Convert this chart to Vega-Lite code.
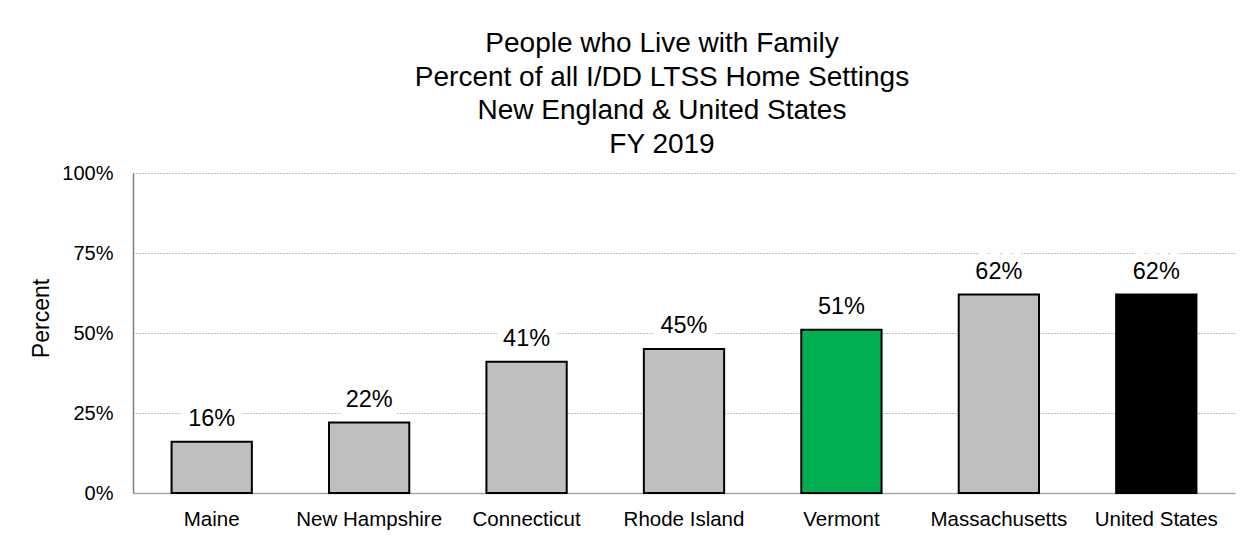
{
  "$schema": "https://vega.github.io/schema/vega-lite/v6.json",
  "width": 1102,
  "height": 320,
  "autosize": {"type": "none"},
  "padding": {"left": 133, "top": 173, "right": 25, "bottom": 57},
  "background": "white",
  "config": {
    "view": {"stroke": null},
    "font": "Liberation Sans"
  },
  "title": {
    "text": ["People who Live with Family", "Percent of all I/DD LTSS Home Settings", "New England & United States", "FY 2019"],
    "fontSize": 28,
    "lineHeight": 33.6,
    "font": "Liberation Sans",
    "fontWeight": "normal",
    "color": "black",
    "anchor": "middle",
    "dx": -22
  },
  "data": {
    "values": [
      {"state": "Maine", "value": 0.16},
      {"state": "New Hampshire", "value": 0.22},
      {"state": "Connecticut", "value": 0.41},
      {"state": "Rhode Island", "value": 0.45},
      {"state": "Vermont", "value": 0.51},
      {"state": "Massachusetts", "value": 0.62},
      {"state": "United States", "value": 0.62}
    ]
  },
  "encoding": {
    "x": {
      "field": "state",
      "type": "nominal",
      "sort": null,
      "scale": {"paddingInner": 0.49, "paddingOuter": 0.245},
      "axis": {
        "title": null,
        "labelAngle": 0,
        "labelFontSize": 20.5,
        "labelColor": "black",
        "labelPadding": 16,
        "ticks": false,
        "domainColor": "#A6A6A6",
        "domainWidth": 1.5
      }
    },
    "y": {
      "field": "value",
      "type": "quantitative",
      "scale": {"domain": [0, 1]},
      "axis": {
        "title": "Percent",
        "titleFontSize": 23,
        "titleFontWeight": "normal",
        "titleColor": "black",
        "titlePadding": 8,
        "titleY": 145,
        "values": [0, 0.25, 0.5, 0.75, 1],
        "format": ".0%",
        "labelFontSize": 20,
        "labelColor": "black",
        "labelPadding": 20,
        "ticks": false,
        "domainColor": "#7F7F7F",
        "domainWidth": 1.5,
        "grid": true,
        "gridColor": "#7F7F7F",
        "gridDash": [1, 2],
        "gridWidth": 1,
        "gridOpacity": {"condition": {"test": "datum.value === 0", "value": 0}, "value": 1}
      }
    }
  },
  "layer": [
    {
      "mark": {"type": "bar", "stroke": "black", "strokeWidth": 2},
      "encoding": {
        "color": {
          "field": "state",
          "type": "nominal",
          "scale": {
            "domain": ["Maine", "New Hampshire", "Connecticut", "Rhode Island", "Vermont", "Massachusetts", "United States"],
            "range": ["#BFBFBF", "#BFBFBF", "#BFBFBF", "#BFBFBF", "#00B050", "#BFBFBF", "#000000"]
          },
          "legend": null
        }
      }
    },
    {
      "mark": {"type": "text", "fontSize": 23.5, "baseline": "alphabetic", "dy": -16, "fill": "white", "stroke": "white", "strokeWidth": 18, "strokeJoin": "round"},
      "encoding": {"text": {"field": "value", "type": "quantitative", "format": ".0%"}}
    },
    {
      "mark": {"type": "text", "fontSize": 23.5, "baseline": "alphabetic", "dy": -16, "fill": "black"},
      "encoding": {"text": {"field": "value", "type": "quantitative", "format": ".0%"}}
    }
  ]
}
